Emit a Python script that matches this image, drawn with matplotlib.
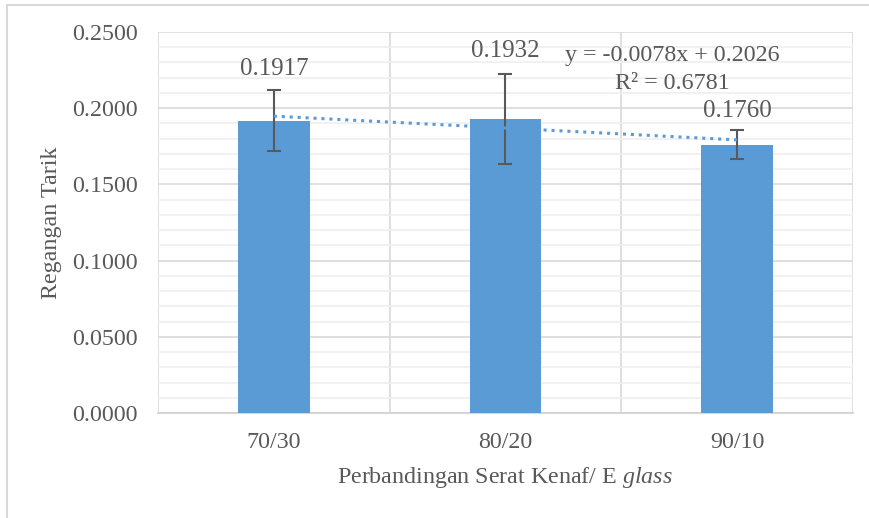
import matplotlib.pyplot as plt
import matplotlib.patches as mpatches
import numpy as np
from matplotlib.ticker import MultipleLocator

rasio = ['70/30', '80/20', '90/10']
regangan = [0.1917, 0.1932, 0.1760]
galat = [0.0200, 0.0295, 0.0095]
slope, intercept = -0.0078, 0.2026
r2 = 0.6781

font = 'Liberation Serif'
abu = '#595959'
biru = '#5B9BD5'
fs = 17.3

plt.rcParams['mathtext.fontset'] = 'custom'
plt.rcParams['mathtext.rm'] = 'Liberation Serif'
plt.rcParams['mathtext.it'] = 'Liberation Serif:italic'

fig = plt.figure(figsize=(8.7, 5.18), dpi=100)
ax = fig.add_axes([158/870, 1-413/518, (853-158)/870, (413-32)/518])

x = np.arange(1, len(rasio)+1)
ax.bar(x, regangan, width=0.31, color=biru, zorder=3)
ax.errorbar(x, regangan, yerr=galat, fmt='none', ecolor='#595959',
            elinewidth=1.5, capsize=5, capthick=1.5, zorder=4)

# garis tren linear
xt = np.array([1, 3])
ax.plot(xt, slope*xt + intercept, linestyle=(0, (1, 1.6)), color=biru,
        linewidth=2.2, zorder=5)

# label nilai
offsets = [0.034, 0.0443, 0.022]
for xi, yi, off in zip(x, regangan, offsets):
    ax.text(xi, yi + off, '{:.4f}'.format(yi), ha='center', va='center',
            fontname=font, fontsize=18, color=abu, zorder=6)

ax.text(2.72, 0.2343, 'y = -0.0078x + 0.2026', ha='center', va='center',
        fontname=font, fontsize=fs, color=abu, zorder=6)
ax.text(2.72, 0.2165, 'R² = 0.6781', ha='center', va='center',
        fontname=font, fontsize=fs, color=abu, zorder=6)

ax.set_xlim(0.5, 3.5)
ax.set_ylim(0, 0.25)
ax.yaxis.set_major_locator(MultipleLocator(0.05))
ax.yaxis.set_minor_locator(MultipleLocator(0.01))
ax.set_xticks(x)
ax.set_xticklabels(rasio)
ax.xaxis.set_minor_locator(plt.FixedLocator([0.5, 1.5, 2.5, 3.5]))
ax.yaxis.set_major_formatter(plt.FuncFormatter(lambda v, p: '{:.4f}'.format(v)))

ax.grid(which='major', axis='y', color='#d9d9d9', linewidth=1.2, zorder=0)
ax.grid(which='minor', axis='y', color='#efefef', linewidth=1.2, zorder=0)
ax.grid(which='minor', axis='x', color='#d9d9d9', linewidth=1.2, zorder=0)
ax.set_axisbelow(True)

for s in ['top', 'right', 'left']:
    ax.spines[s].set_visible(False)
ax.spines['bottom'].set_color('#d0d0d0')
ax.spines['bottom'].set_linewidth(1.2)

ax.tick_params(which='both', length=0, labelcolor=abu, labelsize=fs)
ax.tick_params(axis='y', pad=14.4)
ax.tick_params(axis='x', pad=14)
for lbl in ax.get_xticklabels() + ax.get_yticklabels():
    lbl.set_fontname(font)

fig.text(52/870, 1-223/518, 'Regangan Tarik', rotation=90, ha='center',
         va='center', fontname=font, fontsize=fs, color=abu)
fig.text(505/870, 1-478/518, 'Perbandingan Serat Kenaf/ E $\\mathit{glass}$',
         ha='center', va='center', fontname=font, fontsize=fs, color=abu)

# bingkai grafik
fig.patches.append(mpatches.Rectangle((7/870, -0.01), 1.0, 1-5/518+0.01,
                   transform=fig.transFigure, fill=False,
                   edgecolor='#d9d9d9', linewidth=1.5))

fig.savefig('out.png', dpi=100)
